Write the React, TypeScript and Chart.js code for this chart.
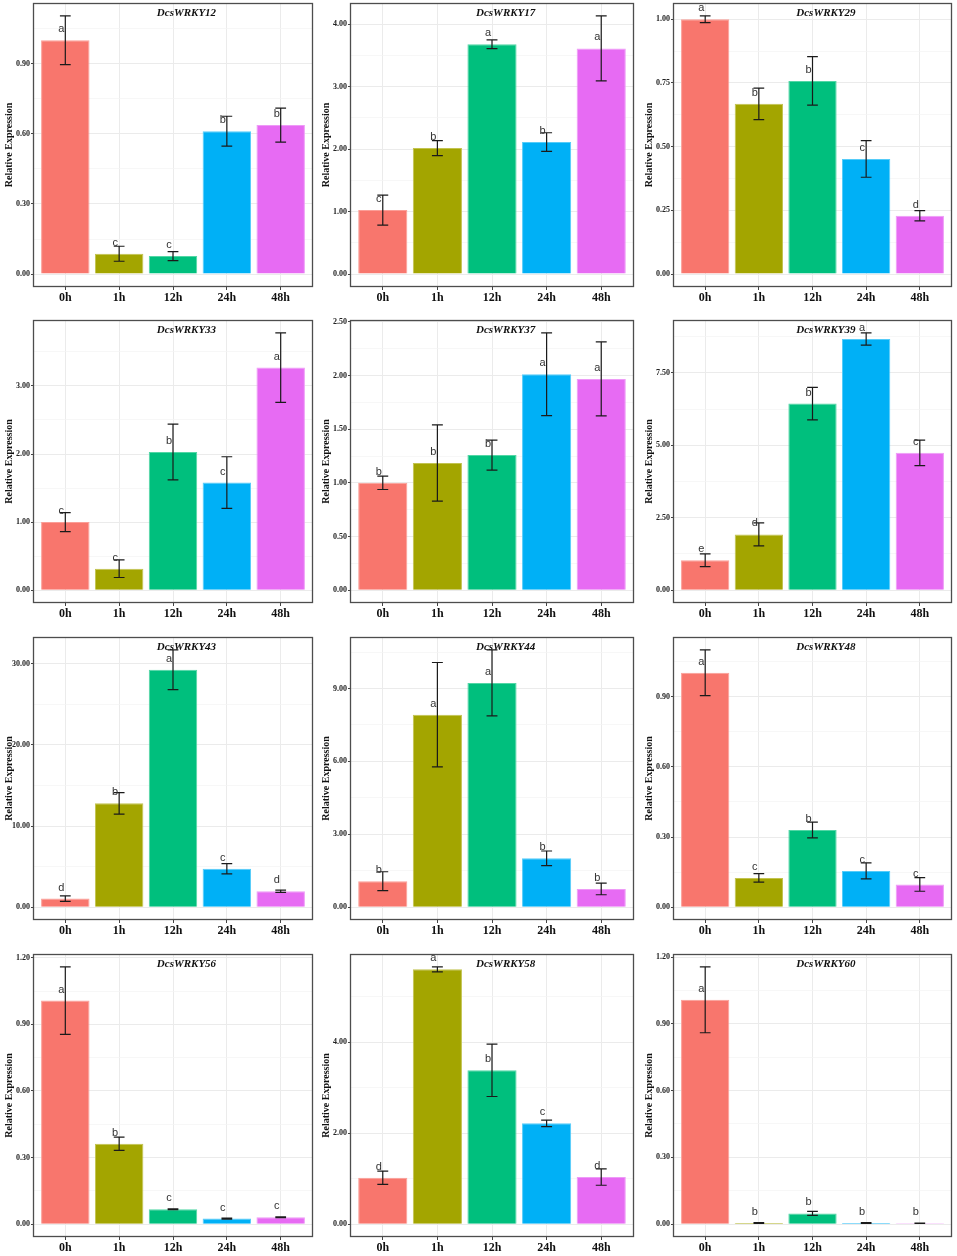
import React, { useEffect, useRef } from 'react';
import { Chart, registerables } from 'chart.js';

Chart.register(...registerables);

// ---------- data ----------
const timePoints = ['0h', '1h', '12h', '24h', '48h'];
const geneNames = [
  'DcsWRKY12', 'DcsWRKY17', 'DcsWRKY29',
  'DcsWRKY33', 'DcsWRKY37', 'DcsWRKY39',
  'DcsWRKY43', 'DcsWRKY44', 'DcsWRKY48',
  'DcsWRKY56', 'DcsWRKY58', 'DcsWRKY60',
];

const wrky12Mean = [1.0, 0.087, 0.077, 0.611, 0.637];
const wrky12Err = [0.104, 0.032, 0.019, 0.064, 0.073];
const wrky12Letters = ['a', 'c', 'c', 'b', 'b'];

const wrky17Mean = [1.025, 2.018, 3.68, 2.114, 3.615];
const wrky17Err = [0.24, 0.12, 0.07, 0.15, 0.52];
const wrky17Letters = ['c', 'b', 'a', 'b', 'a'];

const wrky29Mean = [1.0, 0.668, 0.758, 0.452, 0.229];
const wrky29Err = [0.013, 0.062, 0.095, 0.072, 0.02];
const wrky29Letters = ['a', 'b', 'b', 'c', 'd'];

const wrky33Mean = [1.0, 0.316, 2.03, 1.58, 3.27];
const wrky33Err = [0.14, 0.13, 0.41, 0.38, 0.51];
const wrky33Letters = ['c', 'c', 'b', 'c', 'a'];

const wrky37Mean = [1.0, 1.185, 1.259, 2.012, 1.969];
const wrky37Err = [0.062, 0.355, 0.14, 0.386, 0.345];
const wrky37Letters = ['b', 'b', 'b', 'a', 'a'];

const wrky39Mean = [1.03, 1.924, 6.44, 8.67, 4.74];
const wrky39Err = [0.22, 0.395, 0.56, 0.21, 0.44];
const wrky39Letters = ['e', 'd', 'b', 'a', 'c'];

const wrky43Mean = [1.05, 12.79, 29.26, 4.74, 1.96];
const wrky43Err = [0.33, 1.33, 2.45, 0.63, 0.14];
const wrky43Letters = ['d', 'b', 'a', 'c', 'd'];

const wrky44Mean = [1.067, 7.92, 9.23, 2.01, 0.75];
const wrky44Err = [0.39, 2.15, 1.36, 0.3, 0.24];
const wrky44Letters = ['b', 'a', 'a', 'b', 'b'];

const wrky48Mean = [1.003, 0.125, 0.33, 0.155, 0.097];
const wrky48Err = [0.098, 0.018, 0.034, 0.034, 0.029];
const wrky48Letters = ['a', 'c', 'b', 'c', 'c'];

const wrky56Mean = [1.007, 0.362, 0.067, 0.025, 0.031];
const wrky56Err = [0.152, 0.03, 0.002, 0.002, 0.002];
const wrky56Letters = ['a', 'b', 'c', 'c', 'c'];

const wrky58Mean = [1.02, 5.6, 3.38, 2.215, 1.035];
const wrky58Err = [0.146, 0.055, 0.575, 0.07, 0.18];
const wrky58Letters = ['d', 'a', 'b', 'c', 'd'];

const wrky60Mean = [1.008, 0.005, 0.048, 0.005, 0.004];
const wrky60Err = [0.148, 0.002, 0.009, 0.002, 0.001];
const wrky60Letters = ['a', 'b', 'b', 'b', 'b'];

// labelled y tick spacing for each panel (minor gridlines halfway)
const majorSteps = [0.3, 1, 0.25, 1, 0.5, 2.5, 10, 3, 0.3, 0.3, 2, 0.3];

const meanTable = [
  wrky12Mean, wrky17Mean, wrky29Mean, wrky33Mean, wrky37Mean, wrky39Mean,
  wrky43Mean, wrky44Mean, wrky48Mean, wrky56Mean, wrky58Mean, wrky60Mean,
];
const errTable = [
  wrky12Err, wrky17Err, wrky29Err, wrky33Err, wrky37Err, wrky39Err,
  wrky43Err, wrky44Err, wrky48Err, wrky56Err, wrky58Err, wrky60Err,
];
const letterTable = [
  wrky12Letters, wrky17Letters, wrky29Letters, wrky33Letters, wrky37Letters, wrky39Letters,
  wrky43Letters, wrky44Letters, wrky48Letters, wrky56Letters, wrky58Letters, wrky60Letters,
];

// ---------- styles / layout ----------
const barFills = ['#F8766D', '#A3A500', '#00BF7D', '#00B0F6', '#E76BF3'];
const barEdges = ['#FB9E97', '#C2C34F', '#52D6A5', '#55CCF9', '#EE9AF7'];

const frameLefts = [33, 350, 673];
const frameRights = [313, 634, 952];
const frameTops = [3, 320, 637, 954];
const frameBottoms = [287, 603, 920, 1237];
const AXW = 38;
const PT = 4;
const PR = 4;
const XH = 24;

const SERIF = '"Liberation Serif", "Times New Roman", serif';
const SANS = '"Liberation Sans", Arial, sans-serif';

function Panel({ idx }: { idx: number }) {
  const ref = useRef<HTMLCanvasElement | null>(null);
  const col = idx % 3;
  const row = Math.floor(idx / 3);
  const fl = frameLefts[col];
  const fr = frameRights[col];
  const ft = frameTops[row];
  const fb = frameBottoms[row];
  const boxStyle: React.CSSProperties = {
    position: 'absolute',
    left: fl - AXW,
    top: ft - PT,
    width: fr - fl + AXW + PR,
    height: fb - ft + PT + XH,
  };

  useEffect(() => {
    if (!ref.current) return;
    const means = meanTable[idx];
    const errs = errTable[idx];
    const letters = letterTable[idx];
    const title = geneNames[idx];
    const maxTop = Math.max(...means.map((m, i) => m + errs[i]));
    const yMin = -0.05 * maxTop;
    const yMax = 1.05 * maxTop;
    const step = majorSteps[idx];
    const minor = step / 2;
    const tickVals: number[] = [];
    for (let k = 0; k * minor <= yMax + 1e-9; k++) tickVals.push(+(k * minor).toFixed(6));
    const isMajor = (v: number) => Math.abs(v / step - Math.round(v / step)) < 1e-6;

    const extras = {
      id: 'panelExtras',
      afterDatasetsDraw(chart: any) {
        const { ctx, chartArea } = chart;
        const x = chart.scales.x;
        const y = chart.scales.y;
        ctx.save();
        const capHalf = Math.abs(x.getPixelForValue(0.1) - x.getPixelForValue(0));
        ctx.strokeStyle = '#1a1a1a';
        ctx.lineWidth = 1.2;
        means.forEach((m, i) => {
          const cx = x.getPixelForValue(i);
          const yt = y.getPixelForValue(m + errs[i]);
          const yb = y.getPixelForValue(m - errs[i]);
          ctx.beginPath();
          ctx.moveTo(cx, yt);
          ctx.lineTo(cx, yb);
          ctx.moveTo(cx - capHalf, yt);
          ctx.lineTo(cx + capHalf, yt);
          ctx.moveTo(cx - capHalf, yb);
          ctx.lineTo(cx + capHalf, yb);
          ctx.stroke();
        });
        ctx.fillStyle = '#333';
        ctx.font = '11px ' + SANS;
        ctx.textAlign = 'center';
        ctx.textBaseline = 'middle';
        letters.forEach((L, i) => {
          ctx.fillText(L, x.getPixelForValue(i) - 4, y.getPixelForValue(means[i]) - 11);
        });
        ctx.fillStyle = '#111';
        ctx.font = 'italic bold 11px ' + SERIF;
        ctx.fillText(title, x.getPixelForValue(2.25), chartArea.top + 10.5);
        ctx.strokeStyle = '#4d4d4d';
        ctx.lineWidth = 1.3;
        ctx.strokeRect(chartArea.left + 0.5, chartArea.top + 0.5, chartArea.width - 1, chartArea.height - 1);
        ctx.restore();
      },
    };

    const zeroPad = (s: any) => {
      s.paddingLeft = 0;
      s.paddingRight = 0;
      s.paddingTop = 0;
      s.paddingBottom = 0;
    };

    const chart = new Chart(ref.current, {
      type: 'bar',
      data: {
        datasets: [
          {
            data: means.map((m, i) => ({ x: i, y: m })),
            backgroundColor: barFills,
            borderColor: barEdges,
            borderWidth: 1,
            barPercentage: 0.9,
            categoryPercentage: 1,
          } as any,
        ],
      },
      options: {
        animation: false,
        responsive: true,
        maintainAspectRatio: false,
        layout: { padding: { top: PT, right: PR, left: 0, bottom: 0 } },
        plugins: { legend: { display: false }, tooltip: { enabled: false } },
        scales: {
          x: {
            type: 'linear',
            min: -0.6,
            max: 4.6,
            offset: false,
            afterBuildTicks: (a: any) => {
              a.ticks = timePoints.map((_, i) => ({ value: i }));
            },
            afterFit: (s: any) => {
              s.height = XH;
              zeroPad(s);
            },
            ticks: {
              callback: (v: any) => timePoints[Math.round(Number(v))] ?? '',
              font: { family: SERIF, weight: 'bold', size: 12 },
              color: '#111',
              padding: 1,
              autoSkip: false,
              maxRotation: 0,
            },
            grid: { color: '#ebebeb', tickColor: '#444', tickLength: 3, lineWidth: 1, offset: false },
            border: { display: false },
          },
          y: {
            type: 'linear',
            min: yMin,
            max: yMax,
            afterBuildTicks: (a: any) => {
              a.ticks = tickVals.map((v) => ({ value: v }));
            },
            afterFit: (s: any) => {
              s.width = AXW;
              zeroPad(s);
            },
            ticks: {
              callback: (v: any) => (isMajor(Number(v)) ? Number(v).toFixed(2) : ''),
              font: { family: SERIF, weight: 'bold', size: 8 },
              color: '#222',
              padding: 1,
              autoSkip: false,
            },
            grid: {
              color: (c: any) => (c.tick && isMajor(c.tick.value) ? '#ebebeb' : '#f4f4f4'),
              lineWidth: (c: any) => (c.tick && isMajor(c.tick.value) ? 1 : 0.7),
              tickColor: (c: any) => (c.tick && isMajor(c.tick.value) ? '#444' : 'rgba(0,0,0,0)'),
              tickLength: 2,
            },
            border: { display: false },
            title: {
              display: true,
              text: 'Relative Expression',
              font: { family: SERIF, weight: 'bold', size: 10 },
              color: '#111',
              padding: { top: 8, bottom: 0 },
            },
          },
        },
      } as any,
      plugins: [extras],
    });
    return () => chart.destroy();
  }, [idx]);

  return (
    <div style={boxStyle}>
      <canvas ref={ref} />
    </div>
  );
}

export default function App() {
  return (
    <div
      style={{
        position: 'absolute',
        left: 0,
        top: 0,
        width: 957,
        height: 1256,
        background: '#ffffff',
        overflow: 'hidden',
      }}
    >
      {geneNames.map((_, i) => (
        <Panel key={i} idx={i} />
      ))}
    </div>
  );
}
